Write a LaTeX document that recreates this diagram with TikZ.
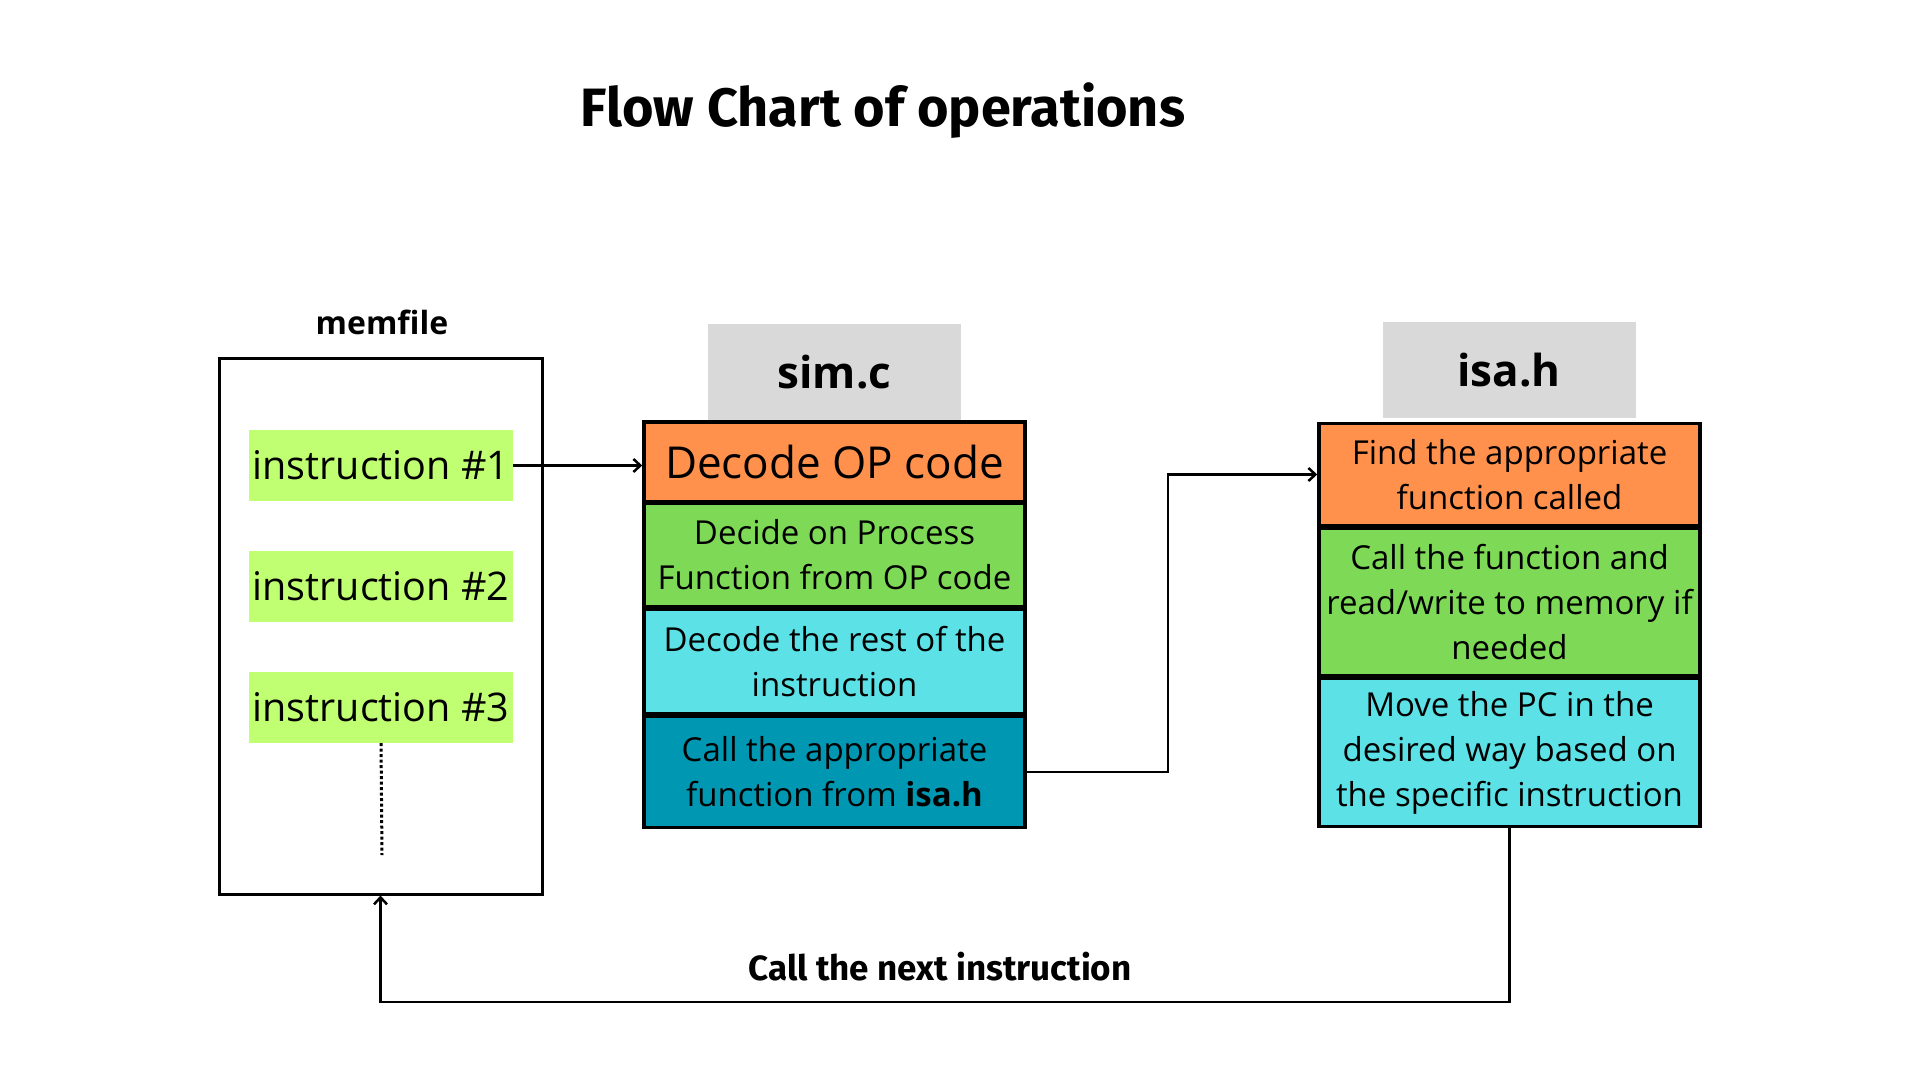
\documentclass[tikz,border=0pt]{standalone}
\usepackage{fontspec}
\setmainfont{Open Sans}
\newfontfamily\headfont{Fira Sans}
\usetikzlibrary{arrows.meta}

\definecolor{instgreen}{HTML}{C1FF72}
\definecolor{oporange}{HTML}{FF914D}
\definecolor{cellgreen}{HTML}{7ED957}
\definecolor{cellcyan}{HTML}{5CE1E6}
\definecolor{cellteal}{HTML}{0097B2}
\definecolor{headgray}{HTML}{D9D9D9}

\tikzset{
 cell/.style={draw=black, line width=3.5pt, minimum width=381pt, inner sep=0pt, align=center, font=\fontsize{33}{45}\selectfont},
 filehead/.style={fill=headgray, minimum width=253pt, minimum height=96pt, font=\fontsize{44}{50}\selectfont\bfseries},
 inst/.style={fill=instgreen, minimum width=264pt, minimum height=71pt, inner sep=0pt, font=\fontsize{39.5}{45}\selectfont},
 arr/.style={line width=2.5pt, -{Straight Barb[length=7pt,width=13pt,line width=2.5pt]}}
}

\begin{document}
\begin{tikzpicture}[x=1pt,y=-1pt]
\useasboundingbox (0,0) rectangle (1920,1080);

\node[anchor=base, font=\headfont\fontsize{54}{60}\selectfont\bfseries] (title) at (883,126) {Flow Chart of operations};

% memfile
\node[anchor=base, font=\fontsize{32}{36}\selectfont\bfseries] (memlabel) at (382,334) {memfile};
\node[draw=black, line width=3pt, minimum width=323pt, minimum height=536pt] (mem) at (380.5,626) {};
\foreach \i [evaluate=\i as \yy using 465.5+121*(\i-1)] in {1,2,3} {
 \node[inst] (inst\i) at (381,\yy) {instruction \#\i};
};
\coordinate (more) at (382,855);
\draw[line width=3pt, dash pattern=on 3pt off 2.5pt] (inst3.south) -- (more);

% sim.c
\node[filehead] (simhead) at (834.5,372) {sim.c};
\node[cell, fill=oporange, minimum height=80pt, font=\fontsize{44}{50}\selectfont] (op) at (834.5,462) {Decode OP code};
\node[cell, fill=cellgreen, minimum height=103pt] (decide) at (834.5,555) {Decide on Process\\Function from OP code};
\node[cell, fill=cellcyan, minimum height=104pt] (rest) at (834.5,661.5) {Decode the rest of the\\instruction};
\node[cell, fill=cellteal, minimum height=111pt] (call) at (834.5,772) {Call the appropriate\\function from \textbf{isa.h}};

% isa.h
\node[filehead] (isahead) at (1509,370) {isa.h};
\node[cell, fill=oporange, minimum height=102pt] (find) at (1509.5,474.5) {Find the appropriate\\function called};
\node[cell, fill=cellgreen, minimum height=147pt] (callf) at (1509.5,602) {Call the function and\\read/write to memory if\\needed};
\node[cell, fill=cellcyan, minimum height=148pt] (move) at (1509.5,752.5) {Move the PC in the\\desired way based on\\the specific instruction};

% connectors
\draw[arr] (inst1.east) -- (inst1.east -| op.west);
\draw[arr] (call.east) -- ++(141,0) |- (find.west);
\coordinate (turn) at (1509.5,1002);
\draw[arr] (move.south) -- (turn) -| (mem.south);
\node[font=\headfont\fontsize{35}{40}\selectfont\bfseries] (next) at (940,967) {Call the next instruction};

\end{tikzpicture}
\end{document}
